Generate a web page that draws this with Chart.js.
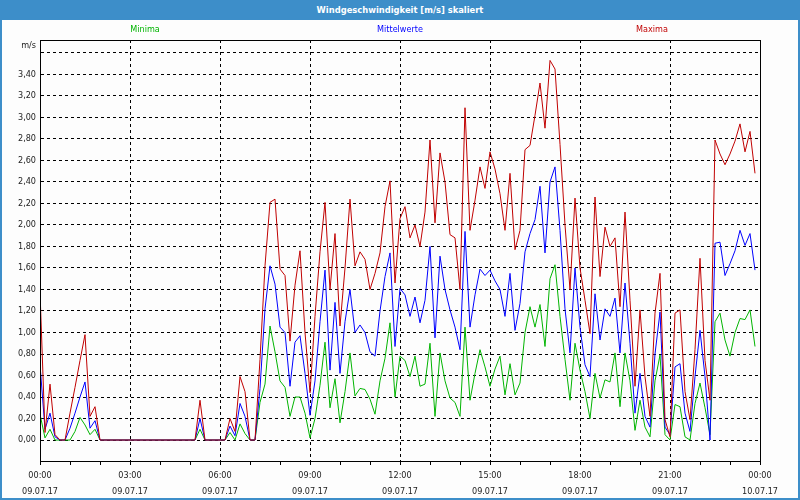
<!DOCTYPE html>
<html>
<head>
<meta charset="utf-8">
<script src="https://cdn.jsdelivr.net/npm/chart.js@4/dist/chart.umd.min.js"></script>
<style>
  body { margin: 0; background: #fff; }
  #wrap { position: relative; width: 800px; height: 500px; background: #fdfdfd; }
  #frame { position: absolute; left: 0; top: 0; width: 800px; height: 500px; box-sizing: border-box; border: 2px solid #3d8ec9; pointer-events: none; }
  #titlebar { position: absolute; left: 0; top: 0; width: 800px; height: 20px; background: #3d8ec9; color: #fff;
    font: bold 9.3px "DejaVu Sans Condensed", "DejaVu Sans", sans-serif; text-align: center; line-height: 20px; }
  canvas { position: absolute; left: 0; top: 0; }
</style>
</head>
<body>
<div id="wrap">
  <canvas id="myChart" width="800" height="500"></canvas>
  <div id="frame"></div>
  <div id="titlebar">Windgeschwindigkeit [m/s] skaliert</div>
</div>
<script>
// 10-minute samples, 09.07.17 00:00 .. 23:50
const sampleMinutes = 10;

const seriesNames = ["Minima", "Mittelwerte", "Maxima"];

const maxima = [
  1.38, 0.07, 0.52, 0.05, 0, 0, 0.25, 0.49, 0.74, 0.98, 0.22, 0.31,
  0, 0, 0, 0, 0, 0, 0, 0, 0, 0, 0, 0,
  0, 0, 0, 0, 0, 0, 0, 0, 0.37, 0, 0, 0,
  0, 0, 0.2, 0.08, 0.59, 0.45, 0, 0, 0.75, 1.62, 2.21, 2.24,
  1.59, 1.53, 0.92, 1.44, 1.76, 1.0, 0.44, 1.15, 1.75, 2.21, 1.40, 1.92,
  1.06, 1.60, 2.24, 1.62, 1.75, 1.68, 1.40, 1.55, 1.74, 2.17, 2.41, 1.46,
  2.06, 2.17, 1.88, 2.00, 1.80, 2.12, 2.79, 2.02, 2.67, 2.40, 1.91, 1.88,
  1.40, 3.09, 1.95, 2.23, 2.54, 2.34, 2.68, 2.52, 2.29, 1.95, 2.48, 1.77,
  1.95, 2.70, 2.74, 3.02, 3.32, 2.90, 3.53, 3.45, 2.75, 2.00, 1.40, 2.25,
  1.60, 1.30, 0.99, 2.26, 1.52, 1.98, 1.80, 1.88, 1.24, 2.12, 1.30, 0.50,
  1.21, 0.59, 0.22, 1.18, 1.55, 0.19, 0.03, 1.18, 1.21, 0.45, 0.19, 0.84,
  1.69, 0.74, 0.37, 2.79, 2.66, 2.56, 2.66, 2.78, 2.94, 2.68, 2.87, 2.48
];

const mittelwerte = [
  0.70, 0.10, 0.25, 0.03, 0, 0, 0.11, 0.25, 0.40, 0.54, 0.11, 0.18,
  0, 0, 0, 0, 0, 0, 0, 0, 0, 0, 0, 0,
  0, 0, 0, 0, 0, 0, 0, 0, 0.2, 0, 0, 0,
  0, 0, 0.13, 0.04, 0.34, 0.22, 0, 0, 0.48, 1.22, 1.62, 1.45,
  1.05, 1.00, 0.50, 0.91, 0.97, 0.62, 0.23, 0.55, 1.10, 1.58, 0.65, 1.28,
  0.62, 1.10, 1.40, 1.00, 1.07, 1.00, 0.82, 0.78, 1.20, 1.52, 1.74, 0.87,
  1.41, 1.35, 1.15, 1.33, 1.09, 1.30, 1.80, 0.95, 1.71, 1.40, 1.21, 1.05,
  0.84, 1.94, 1.05, 1.35, 1.59, 1.53, 1.58, 1.48, 1.40, 1.15, 1.55, 1.02,
  1.27, 1.75, 1.92, 2.05, 2.36, 1.74, 2.40, 2.54, 1.95, 1.22, 0.81, 1.60,
  1.05, 0.70, 0.59, 1.36, 0.93, 1.22, 1.15, 1.32, 0.81, 1.46, 0.90, 0.25,
  0.62, 0.22, 0.12, 0.80, 1.19, 0.12, 0.05, 0.68, 0.71, 0.25, 0.08, 0.59,
  1.02, 0.59, 0.00, 1.83, 1.84, 1.53, 1.64, 1.76, 1.95, 1.81, 1.92, 1.58
];

const minima = [
  0.24, 0.02, 0.10, 0, 0, 0, 0, 0.08, 0.21, 0.14, 0.05, 0.10,
  0, 0, 0, 0, 0, 0, 0, 0, 0, 0, 0, 0,
  0, 0, 0, 0, 0, 0, 0, 0, 0.1, 0, 0, 0,
  0, 0, 0.07, 0, 0.15, 0.06, 0, 0, 0.35, 0.52, 1.06, 0.82,
  0.55, 0.49, 0.22, 0.40, 0.40, 0.25, 0.02, 0.20, 0.51, 0.91, 0.30, 0.57,
  0.16, 0.45, 0.81, 0.41, 0.48, 0.47, 0.38, 0.24, 0.55, 0.76, 1.09, 0.40,
  0.78, 0.74, 0.59, 0.78, 0.50, 0.52, 0.90, 0.22, 0.81, 0.55, 0.39, 0.35,
  0.22, 1.05, 0.37, 0.62, 0.84, 0.68, 0.50, 0.66, 0.78, 0.42, 0.71, 0.42,
  0.53, 1.00, 1.24, 1.05, 1.26, 0.87, 1.50, 1.63, 1.15, 0.75, 0.37, 0.90,
  0.65, 0.45, 0.20, 0.62, 0.39, 0.56, 0.54, 0.81, 0.31, 0.81, 0.55, 0.09,
  0.37, 0.12, 0.03, 0.55, 0.79, 0.05, 0.00, 0.33, 0.31, 0.03, 0.00, 0.34,
  0.53, 0.30, 0.05, 1.10, 1.18, 0.93, 0.78, 1.00, 1.13, 1.12, 1.21, 0.87
];

// axis ticks
const yTicks = [0, 0.2, 0.4, 0.6, 0.8, 1.0, 1.2, 1.4, 1.6, 1.8, 2.0, 2.2, 2.4, 2.6, 2.8, 3.0, 3.2, 3.4, 3.6];
const hourTicks = [0, 1, 2, 3, 4, 5, 6, 7, 8, 9, 10, 11, 12, 13, 14, 15, 16, 17, 18, 19, 20, 21, 22, 23, 24];
const labelHours = [0, 3, 6, 9, 12, 15, 18, 21, 24];
const timeLabels = ["00:00", "03:00", "06:00", "09:00", "12:00", "15:00", "18:00", "21:00", "00:00"];
const dateLabels = ["09.07.17", "09.07.17", "09.07.17", "09.07.17", "09.07.17", "09.07.17", "09.07.17", "09.07.17", "10.07.17"];

const font = "'DejaVu Sans Condensed', 'DejaVu Sans', sans-serif";
const toPoints = (arr) => arr.map((v, i) => ({ x: (i * sampleMinutes) / 60, y: v }));

const plotFrame = {
  id: "plotFrame",
  afterDraw(chart) {
    const { ctx, chartArea: a } = chart;
    ctx.save();
    ctx.strokeStyle = "#000";
    ctx.lineWidth = 1;
    ctx.strokeRect(a.left + 0.5, a.top + 0.5, a.right - a.left, a.bottom - a.top);

    // unit above y axis
    ctx.fillStyle = "#222";
    ctx.font = "9px " + font;
    ctx.textAlign = "right";
    ctx.textBaseline = "middle";
    ctx.fillText("m/s", a.left - 4, 45.5);

    // legend: coloured series names in one row
    const legendX = [145, 400, 652];
    ctx.textAlign = "center";
    chart.data.datasets.forEach((ds, i) => {
      ctx.fillStyle = ds.borderColor;
      ctx.fillText(ds.label, legendX[i], 30);
    });
    ctx.restore();
  },
};

window.onload = () => {
  const ctx = document.querySelector("#myChart").getContext("2d");

  new Chart(ctx, {
    type: "line",
    data: {
      datasets: [
        { label: seriesNames[0], data: toPoints(minima), borderColor: "#00b400", order: 3 },
        { label: seriesNames[1], data: toPoints(mittelwerte), borderColor: "#0000ff", order: 2 },
        { label: seriesNames[2], data: toPoints(maxima), borderColor: "#c00000", order: 1 },
      ],
    },
    options: {
      responsive: false,
      animation: false,
      devicePixelRatio: 1,
      layout: { padding: { top: 40, right: 40, left: 2, bottom: 0 } },
      elements: {
        line: { borderWidth: 1, tension: 0, fill: false },
        point: { radius: 0 },
      },
      plugins: {
        legend: { display: false },
        tooltip: { enabled: false },
      },
      scales: {
        x: {
          type: "linear",
          min: 0,
          max: 24,
          afterBuildTicks: (axis) => {
            axis.ticks = hourTicks.map((v) => ({ value: v }));
          },
          afterFit: (axis) => {
            axis.height = 39;
          },
          grid: {
            color: (c) =>
              c.tick && c.tick.value % 3 === 0 && c.tick.value > 0 && c.tick.value < 24
                ? "#000"
                : "rgba(0,0,0,0)",
            tickColor: "#000",
            tickLength: 4,
            lineWidth: 1,
          },
          border: { color: "#000", dash: [3, 3] },
          ticks: {
            autoSkip: false,
            maxRotation: 0,
            padding: 3,
            color: "#222",
            font: { family: font, size: 9, lineHeight: 1.75 },
            callback: (v) => {
              const k = labelHours.indexOf(v);
              return k < 0 ? "" : [timeLabels[k], dateLabels[k]];
            },
          },
        },
        y: {
          min: -0.195,
          max: 3.72,
          afterBuildTicks: (axis) => {
            axis.ticks = yTicks.map((v) => ({ value: v }));
          },
          afterFit: (axis) => {
            axis.width = 38;
          },
          grid: { color: "#000", drawTicks: false, lineWidth: 1 },
          border: { color: "#000", dash: [3, 3] },
          ticks: {
            padding: 4,
            color: "#222",
            font: { family: font, size: 9 },
            callback: (v) => (v <= 3.4 ? v.toFixed(2).replace(".", ",") : ""),
          },
        },
      },
    },
    plugins: [plotFrame],
  });
};
</script>
</body>
</html>
